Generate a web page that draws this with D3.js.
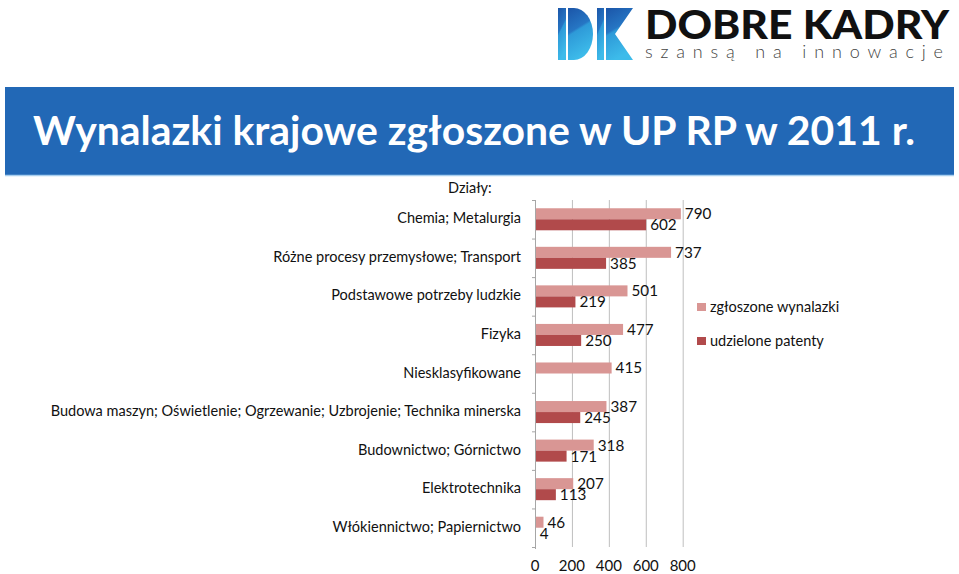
<!DOCTYPE html>
<html><head><meta charset="utf-8">
<script src="https://cdn.jsdelivr.net/npm/d3@7"></script>
<style>
html,body{margin:0;padding:0;background:#fff;}
svg{display:block;}
</style></head>
<body>
<svg id="chart" width="959" height="574"></svg>
<script>
const categories = [
  "Chemia; Metalurgia",
  "Różne procesy przemysłowe; Transport",
  "Podstawowe potrzeby ludzkie",
  "Fizyka",
  "Niesklasyfikowane",
  "Budowa maszyn; Oświetlenie; Ogrzewanie; Uzbrojenie; Technika minerska",
  "Budownictwo; Górnictwo",
  "Elektrotechnika",
  "Włókiennictwo; Papiernictwo"
];
const seriesNames = ["zgłoszone wynalazki", "udzielone patenty"];
const zgloszone = [790, 737, 501, 477, 415, 387, 318, 207, 46];
const udzielone = [602, 385, 219, 250, null, 245, 171, 113, 4];
const xTicks = [0, 200, 400, 600, 800];
const titleText = "Wynalazki krajowe zgłoszone w UP RP w 2011 r.";
const axisTitle = "Działy:";

const colors = ["#D99694", "#B14A4B"];
const font = "Lato, 'Noto Sans', sans-serif";

const svg = d3.select("#chart");

// ---------- Logo ----------
const defs = svg.append("defs");
const g1 = defs.append("linearGradient").attr("id","dk").attr("x1","0").attr("y1","0").attr("x2","0.3").attr("y2","1");
g1.append("stop").attr("offset","0").attr("stop-color","#1B55A8");
g1.append("stop").attr("offset","0.45").attr("stop-color","#2676C4");
g1.append("stop").attr("offset","0.5").attr("stop-color","#2E9AD8");
g1.append("stop").attr("offset","1").attr("stop-color","#3DBBEA");
const logo = svg.append("g");
logo.append("rect").attr("x",558).attr("y",8).attr("width",8).attr("height",52).attr("fill","url(#dk)");
logo.append("path").attr("d","M568,8 L574,8 A19,26 0 0 1 574,60 L568,60 Z").attr("fill","url(#dk)");
logo.append("rect").attr("x",597).attr("y",8).attr("width",7).attr("height",52).attr("fill","url(#dk)");
logo.append("path").attr("d","M606,8 L633,8 L615,34 L633,60 L606,60 Z").attr("fill","url(#dk)");
logo.append("text").attr("x",645).attr("y",39).attr("font-family",font).attr("font-weight",900)
  .attr("font-size",40).attr("fill","#111").attr("textLength",304).attr("lengthAdjust","spacingAndGlyphs")
  .text("DOBRE KADRY");
logo.append("text").attr("x",645).attr("y",58).attr("font-family",font).attr("font-weight",300)
  .attr("font-size",18).attr("fill","#444").attr("textLength",298).attr("lengthAdjust","spacing")
  .text("szansą na innowacje");

// ---------- Title banner ----------
svg.append("rect").attr("x",5).attr("y",87).attr("width",949).attr("height",88).attr("fill","#2268B6");
svg.append("line").attr("x1",5).attr("x2",954).attr("y1",175.5).attr("y2",175.5).attr("stroke","#A9CFEF").attr("stroke-width",1.5);
svg.append("text").attr("x",33).attr("y",145).attr("font-family",font).attr("font-weight",700)
  .attr("font-size",40).attr("fill","#fff").attr("textLength",882).attr("lengthAdjust","spacingAndGlyphs")
  .text(titleText);

// ---------- Chart ----------
const x = d3.scaleLinear().domain([0, 800]).range([535, 682.7]);
const y0 = d3.scaleBand().domain(categories).range([200, 547]).paddingInner(0).paddingOuter(0);
const y1 = d3.scaleBand().domain(seriesNames).range([0, y0.bandwidth()]).paddingInner(0).paddingOuter(0.75);

const chart = svg.append("g");

// gridlines
chart.selectAll("line.grid").data(xTicks.slice(1)).join("line")
  .attr("x1", d => x(d)+0.5).attr("x2", d => x(d)+0.5)
  .attr("y1", 200).attr("y2", 547).attr("stroke","#BFBFBF").attr("stroke-width",1);

// left axis line & ticks
chart.append("line").attr("x1",535.5).attr("x2",535.5).attr("y1",200).attr("y2",549).attr("stroke","#A6A6A6");
const boundaries = categories.map(c => y0(c)).concat([547]);
chart.selectAll("line.ytick").data(boundaries).join("line")
  .attr("x1",532).attr("x2",535.5).attr("y1",d=>d+0.5).attr("y2",d=>d+0.5).attr("stroke","#A6A6A6");

// x tick labels
chart.selectAll("text.xt").data(xTicks).join("text")
  .attr("x", d => x(d)).attr("y", 571).attr("text-anchor","middle")
  .attr("font-family",font).attr("font-size",15).attr("fill","#111").text(d => d);

// category labels
const catLabels = chart.selectAll("text.cat").data(categories).join("text")
  .attr("x", 521).attr("y", d => y0(d) + y0.bandwidth()/2 - 1).attr("dy","0.35em")
  .attr("text-anchor","end").attr("font-family",font).attr("font-size",14).attr("fill","#111")
  .text(d => d);
// fit font size so the longest label matches the reference width (~471px)
const longest = catLabels.filter((d,i)=>i===5).node();
const w = longest.getComputedTextLength();
const catSize = 14 * 471 / w;
catLabels.attr("font-size", catSize);

chart.append("text").attr("x",448).attr("y",188).attr("dy","0.35em")
  .attr("font-family",font).attr("font-size",catSize).attr("fill","#111").text(axisTitle);

// bars
const rows = categories.map((c,i) => ({c, vals:[zgloszone[i], udzielone[i]]}));
const groups = chart.selectAll("g.grp").data(rows).join("g")
  .attr("transform", d => `translate(0,${y0(d.c)})`);
groups.each(function(d){
  const g = d3.select(this);
  d.vals.forEach((v,j) => {
    if (v == null) return;
    const s = seriesNames[j];
    g.append("rect").attr("x", x(0)+1).attr("y", y1(s))
      .attr("width", Math.max(0, x(v)-x(0)-1)).attr("height", y1.bandwidth())
      .attr("fill", colors[j]);
    g.append("text").attr("x", x(v)+4).attr("y", y1(s)+y1.bandwidth()/2).attr("dy","0.36em")
      .attr("font-family",font).attr("font-size",catSize*1.05).attr("fill","#111").text(v);
  });
});

// legend
const leg = svg.append("g");
seriesNames.forEach((s,i) => {
  const cy = 307 + i*34;
  leg.append("rect").attr("x",697).attr("y",cy-4).attr("width",9).attr("height",8).attr("fill",colors[i]);
  leg.append("text").attr("x",710).attr("y",cy).attr("dy","0.35em")
    .attr("font-family",font).attr("font-size",catSize).attr("fill","#111").text(s);
});
</script>
</body></html>
